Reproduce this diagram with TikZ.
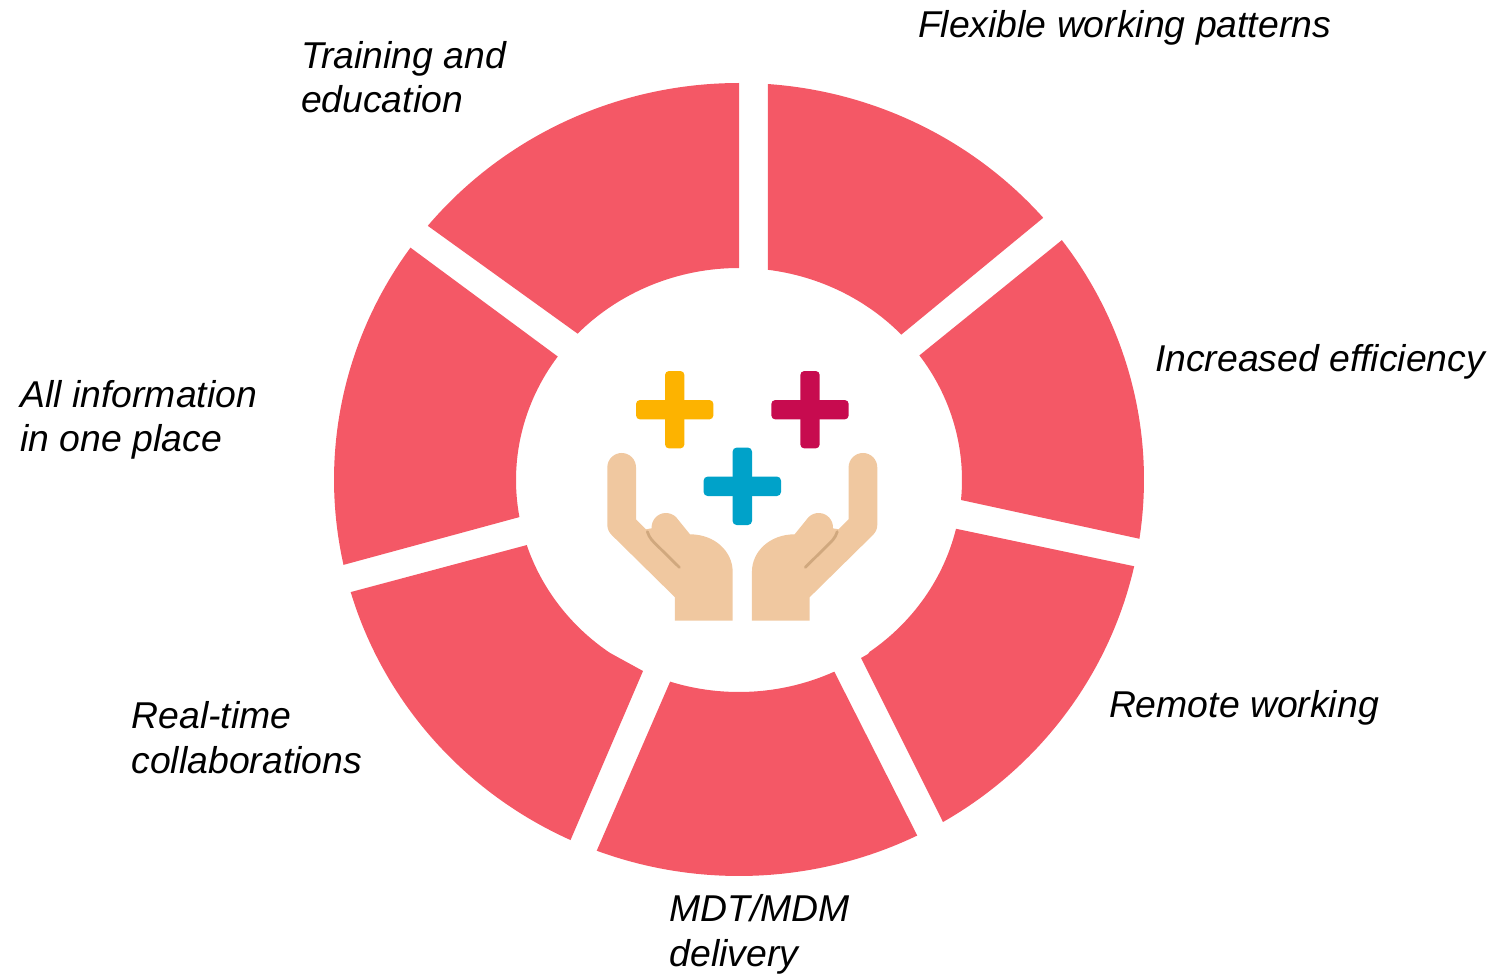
\documentclass[tikz,border=0pt]{standalone}
\usepackage{fontspec}
\setmainfont{Liberation Sans}
\definecolor{seg}{HTML}{F45866}
\definecolor{plusY}{HTML}{FDB300}
\definecolor{plusC}{HTML}{C70B4F}
\definecolor{plusB}{HTML}{00A2C9}
\definecolor{hand}{HTML}{F0C8A0}
\definecolor{handS}{HTML}{D0A87E}
\tikzset{
  lab/.style={anchor=base west,inner sep=0pt,outer sep=0pt,font=\fontsize{37.35}{44}\selectfont\itshape},
  segfill/.style={fill=seg,draw=none},
}
\newcommand\twol[3]{\vtop{\baselineskip=#1pt\hbox{#2}\hbox{#3}}}
\def\segpre{}
\def\segpost{}
% outer start, outer end, inner end, inner start (clockwise on screen)
\newcommand\seg[8]{%
  \pgfmathsetmacro\aa{atan2((#2-479.5)/396.5,(#1-739)/405)}%
  \pgfmathsetmacro\ab{atan2((#4-479.5)/396.5,(#3-739)/405)}%
  \pgfmathsetmacro\ac{atan2((#6-480)/212,(#5-739)/223)}%
  \pgfmathsetmacro\ad{atan2((#8-480)/212,(#7-739)/223)}%
  \pgfmathsetmacro\db{\aa+mod(\ab-\aa+720,360)}%
  \pgfmathsetmacro\dd{\ac-mod(\ac-\ad+720,360)}%
  \pgfmathsetmacro\oxs{739+405*cos(\aa)}%
  \pgfmathsetmacro\oys{479.5+396.5*sin(\aa)}%
  \pgfmathsetmacro\ixs{739+223*cos(\ac)}%
  \pgfmathsetmacro\iys{480+212*sin(\ac)}%
  \fill[segfill] (\oxs,\oys) arc[start angle=\aa,end angle=\db,x radius=405,y radius=396.5]
    \segpre -- (\ixs,\iys) arc[start angle=\ac,end angle=\dd,x radius=223,y radius=212] \segpost -- cycle;
}
\newcommand\plusmark[3]{%
  \fill[#3,rounded corners=4] (#1-38.7,#2-9.7) rectangle (#1+38.7,#2+9.7);
  \fill[#3,rounded corners=4] (#1-9.7,#2-38.7) rectangle (#1+9.7,#2+38.7);
}
\newcommand\handshape{%
  \fill[hand] (52,322) arc[start angle=180,end angle=360,x radius=43,y radius=43]
    -- (138,478) -- (168,508) -- (185,505)
    arc[start angle=176,end angle=315,x radius=43,y radius=43] -- (300,523)
    .. controls (375,523) and (428,575) .. (428,635)
    -- (428,782) -- (255,782) -- (255,712) -- (65,525)
    .. controls (57,517) and (52,507) .. (52,495) -- cycle;
  \draw[handS,line width=2.8,line cap=round] (172,515) .. controls (178,535) and (190,545) .. (200,555) -- (268,622);
}
\begin{document}
\begin{tikzpicture}[x=1pt,y=-1pt]
\useasboundingbox (0,0) rectangle (1491,976);
\seg{768}{84}{1043}{218}{902}{334}{768}{268}
\seg{1062}{240}{1141}{539}{961}{500}{920}{355}
\def\segpre{-- (861,658) -- (868,654)}
\seg{1133}{566}{943}{822}{869}{651}{957}{529}
\def\segpre{}
\seg{917}{835}{597}{850}{670}{682}{834}{671}
\def\segpost{-- (643,671)}
\seg{571}{839}{351}{592}{527}{545}{610}{653}
\def\segpost{}
\seg{343}{565}{411}{248}{557}{356}{520}{517}
\seg{428}{226}{739}{83}{739}{268}{578}{334}
\plusmark{674.7}{409.7}{plusY}
\plusmark{810}{409.7}{plusC}
\plusmark{742.3}{486.3}{plusB}
\begin{scope}[shift={(590,360)},x=0.3333pt,y=-0.3333pt]
  \handshape
\end{scope}
\begin{scope}[shift={(894.6,360)},x=-0.3333pt,y=-0.3333pt]
  \handshape
\end{scope}
\node[lab] (t1) at (918,37.5) {Flexible working patterns};
\node[lab] (t2) at (301,68.2) {\twol{44}{Training and}{education}};
\node[lab] (t3) at (1155,371.2) {Increased efficiency};
\node[lab] (t4) at (20.5,407) {\twol{44}{All information}{in one place}};
\node[lab] (t5) at (1109,717.2) {Remote working};
\node[lab] (t6) at (131.5,728.2) {\twol{45}{Real-time}{collaborations}};
\node[lab] (t7) at (669.5,921.2) {\twol{45}{MDT/MDM}{delivery}};
\end{tikzpicture}
\end{document}
